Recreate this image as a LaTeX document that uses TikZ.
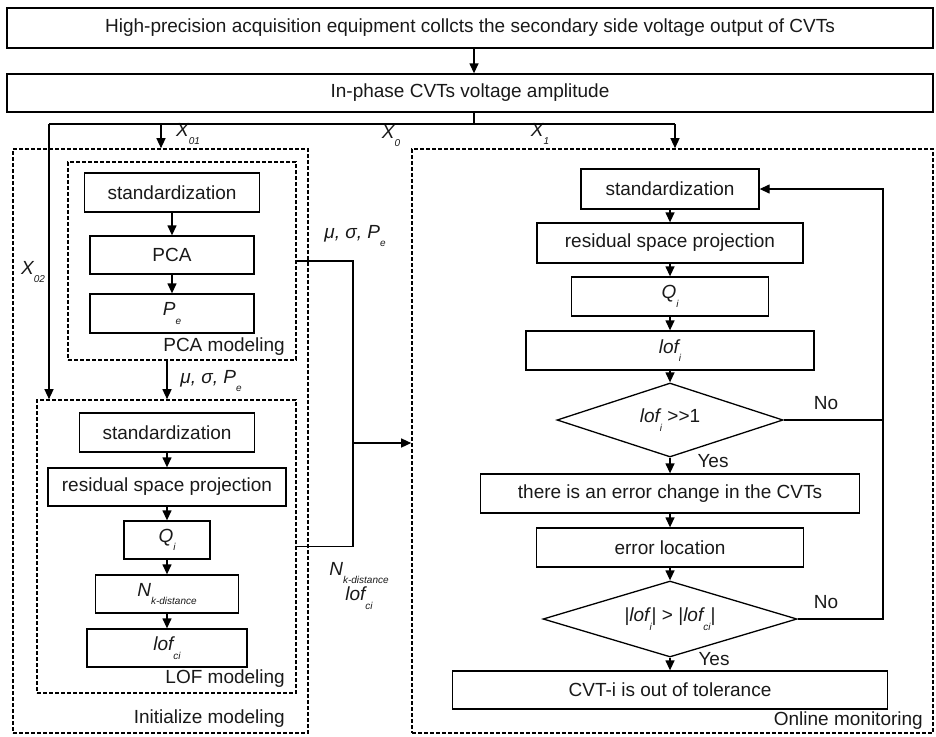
\documentclass[tikz,border=0pt]{standalone}
\usepackage{fontspec}
\setmainfont{Liberation Sans}
\usetikzlibrary{arrows.meta,shapes.geometric}

\newcommand{\sbs}[1]{\raisebox{-0.45em}{\fontsize{10}{10}\selectfont\itshape #1}}

\begin{document}
\begin{tikzpicture}[x=1pt, y=-1pt,
    font=\fontsize{19}{22}\selectfont,
    >={Triangle[length=10pt,width=9pt]},
    box/.style={draw, line width=1.3pt, inner sep=0pt, text=black!90},
    group/.style={draw, dash pattern=on 4pt off 2pt, line width=1.6pt, inner sep=0pt},
    decision/.style={draw, diamond, line width=1.3pt, inner sep=0pt, text=black!90},
    tag/.style={inner sep=0pt, text=black!90},
    flow/.style={->, line width=1.3pt},
    wire/.style={line width=1.3pt}]
                \useasboundingbox (0,0) rectangle (936,736);

                % Groups
                \node[group, minimum width=295pt, minimum height=584pt] (init) at (160.5,441) {};
                \node[group, minimum width=228pt, minimum height=198pt] (pcam) at (182,261) {};
                \node[group, minimum width=259pt, minimum height=293pt] (lofm) at (166.5,546.5) {};
                \node[group, minimum width=521pt, minimum height=584pt] (online) at (672.5,441) {};
                \node[tag, anchor=east] (pcamtag) at (285,347) {PCA modeling};
                \node[tag, anchor=east] (lofmtag) at (285,679) {LOF modeling};
                \node[tag, anchor=east] (inittag) at (285,719) {Initialize modeling};
                \node[tag, anchor=east] (onlinetag) at (923,721) {Online monitoring};

                % Nodes
                \node[box, minimum width=926pt, minimum height=40pt] (acq) at (470,28) {High-precision acquisition equipment collcts the secondary side voltage output of CVTs};
                \node[box, minimum width=926pt, minimum height=38pt] (amp) at (470,93) {In-phase CVTs voltage amplitude};

                \node[box, minimum width=175pt, minimum height=39pt] (std1) at (172,192.5) {standardization};
                \node[box, minimum width=164pt, minimum height=38pt] (pca) at (172,255) {PCA};
                \node[box, minimum width=164pt, minimum height=39pt] (pe) at (172,313.5) {\itshape P\sbs{e}};

                \node[box, minimum width=175pt, minimum height=39pt] (std2) at (167,432.5) {standardization};
                \node[box, minimum width=238pt, minimum height=38pt] (rsp2) at (167,487) {residual space projection};
                \node[box, minimum width=86pt, minimum height=38pt] (q2) at (167,540) {\itshape Q\sbs{i}};
                \node[box, minimum width=143pt, minimum height=38pt] (nk) at (167,594) {\itshape N\sbs{k-distance}};
                \node[box, minimum width=160pt, minimum height=38pt] (lofc) at (167,648) {\itshape lof\sbs{ci}};

                \node[box, minimum width=178pt, minimum height=40pt] (std3) at (670,189) {standardization};
                \node[box, minimum width=266pt, minimum height=40pt] (rsp3) at (670,243) {residual space projection};
                \node[box, minimum width=197pt, minimum height=39pt] (q3) at (670,296.5) {\itshape Q\sbs{i}};
                \node[box, minimum width=288pt, minimum height=39pt] (lofi) at (670,350.5) {\itshape lof\sbs{i}};
                \node[decision, aspect=3.05, minimum width=226pt, minimum height=74pt] (dec1) at (670,420) {{\itshape lof\sbs{i}} >{}>1};
                \node[box, minimum width=379pt, minimum height=39pt] (errc) at (670,493.5) {there is an error change in the CVTs};
                \node[box, minimum width=267pt, minimum height=39pt] (errl) at (670,547.5) {error location};
                \node[decision, aspect=3.34, minimum width=254pt, minimum height=76pt] (dec2) at (670,619) {|{\itshape lof\sbs{i}}| > |{\itshape lof\sbs{ci}}|};
                \node[box, minimum width=435pt, minimum height=38pt] (oot) at (670,690) {CVT-i is out of tolerance};

                % Labels
                \node[tag] (lx01) at (188,134) {\itshape X\sbs{01}};
                \node[tag] (lx0) at (391,136) {\itshape X\sbs{0}};
                \node[tag] (lx1) at (540,134) {\itshape X\sbs{1}};
                \node[tag] (lx02) at (33,272) {\itshape X\sbs{02}};
                \node[tag] (lmu1) at (211,381) {\itshape μ, σ, P\sbs{e}};
                \node[tag] (lmu2) at (355,236) {\itshape μ, σ, P\sbs{e}};
                \node[tag] (lnk) at (359,573) {\itshape N\sbs{k-distance}};
                \node[tag] (llofc) at (359,598) {\itshape lof\sbs{ci}};
                \node[tag] (yes1) at (713,461) {Yes};
                \node[tag] (no1) at (826,403) {No};
                \node[tag] (no2) at (826,602) {No};
                \node[tag] (yes2) at (714,659) {Yes};

                % Junctions
                \coordinate (split) at (474,124);
                \coordinate (x02) at (49,124);
                \coordinate (x01) at (161,124);
                \coordinate (x1) at (675,124);
                \coordinate (join) at (353,443);
                \coordinate (fb) at (883,619);

                % Edges
                \draw[flow] (acq.south -| split) -- (amp.north -| split);
                \draw[wire] (amp.south -| split) -- (split);
                \draw[wire] (x02) -- (x1);
                \draw[flow] (x01) -- (x01 |- init.north);
                \draw[flow] (x1) -- (x1 |- online.north);
                \draw[flow] (x02) -- (x02 |- lofm.north);

                \draw[flow] (std1) -- (pca);
                \draw[flow] (pca) -- (pe);
                \draw[flow] (std2 |- pcam.south) -- (std2 |- lofm.north);
                \draw[flow] (std2) -- (rsp2);
                \draw[flow] (rsp2) -- (q2);
                \draw[flow] (q2) -- (nk);
                \draw[flow] (nk) -- (lofc);

                \draw[wire] (pcam.east) -| (join);
                \draw[wire] (lofm.east) -| (join);
                \draw[flow] (join) -- (join -| online.west);

                \draw[flow] (std3) -- (rsp3);
                \draw[flow] (rsp3) -- (q3);
                \draw[flow] (q3) -- (lofi);
                \draw[flow] (lofi) -- (dec1);
                \draw[flow] (dec1) -- (errc);
                \draw[flow] (errc) -- (errl);
                \draw[flow] (errl) -- (dec2);
                \draw[flow] (dec2) -- (oot);
                \draw[wire] (dec1.east) -- (dec1.east -| fb);
                \draw[flow] (dec2.east) -- (fb) |- (std3.east);
            \end{tikzpicture}
\end{document}
